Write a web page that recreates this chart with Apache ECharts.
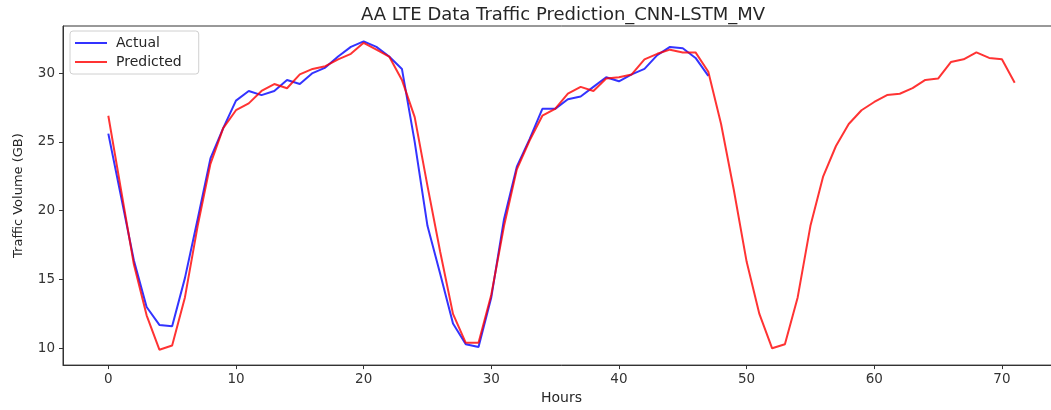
<!DOCTYPE html>
<html>
<head>
<meta charset="utf-8">
<script src="https://cdn.jsdelivr.net/npm/echarts@6/dist/echarts.min.js"></script>
<style>
  html, body { margin: 0; padding: 0; background: #fff; overflow: hidden; }
  #chart { width: 1062px; height: 410px; }
</style>
</head>
<body>
<div id="chart"></div>
<script>
// values, one per hour
const actual = [
  25.6, 21.0, 16.4, 13.0, 11.7, 11.6, 15.1, 19.4, 23.8, 26.0,
  28.0, 28.7, 28.4, 28.7, 29.5, 29.2, 30.0, 30.4, 31.2, 31.9,
  32.3, 31.9, 31.2, 30.3, 25.0, 18.9, 15.4, 11.8, 10.3, 10.1,
  13.7, 19.4, 23.2, 25.2, 27.4, 27.4, 28.1, 28.3, 29.0, 29.7,
  29.4, 29.9, 30.3, 31.3, 31.9, 31.8, 31.1, 29.8
]
const predicted = [
  26.9, 21.5, 16.1, 12.4, 9.9, 10.2, 13.7, 18.9, 23.4, 26.0,
  27.3, 27.8, 28.7, 29.2, 28.9, 29.9, 30.3, 30.5, 31.0, 31.4,
  32.2, 31.7, 31.2, 29.5, 26.8, 21.8, 17.0, 12.5, 10.4, 10.4,
  13.9, 18.9, 23.0, 25.1, 26.9, 27.4, 28.5, 29.0, 28.7, 29.6,
  29.7, 29.9, 31.0, 31.4, 31.7, 31.5, 31.5, 30.1, 26.3, 21.5,
  16.3, 12.5, 10.0, 10.3, 13.7, 18.9, 22.5, 24.7, 26.3, 27.3,
  27.9, 28.4, 28.5, 28.9, 29.5, 29.6, 30.8, 31.0, 31.5, 31.1,
  31.0, 29.3
]
const xTicks = [0, 10, 20, 30, 40, 50, 60, 70]
const yTicks = [10, 15, 20, 25, 30]

const font = 'DejaVu Sans'
const toPairs = arr => arr.map((v, i) => [i, v])

const chart = echarts.init(document.getElementById('chart'), null, { renderer: 'canvas' })
chart.setOption({
  animation: false,
  backgroundColor: '#fff',
  textStyle: { fontFamily: font },
  title: {
    text: 'AA LTE Data Traffic Prediction_CNN-LSTM_MV',
    left: 558,
    top: 1,
    textAlign: 'center',
    textStyle: { fontFamily: font, fontSize: 18, fontWeight: 'normal', color: '#262626' }
  },
  legend: {
    orient: 'vertical',
    left: 70,
    top: 31,
    icon: 'rect',
    itemWidth: 32,
    itemHeight: 2,
    itemGap: 5,
    padding: [5, 17, 5, 5],
    borderColor: '#d0d0d0',
    borderWidth: 1,
    borderRadius: 3,
    textStyle: { fontFamily: font, fontSize: 14, color: '#262626', padding: [0, 0, 0, 4] },
    data: ['Actual', 'Predicted']
  },
  grid: {
    left: 63,
    top: 26,
    right: 2,
    bottom: 40,
    show: true,
    borderColor: '#333',
    borderWidth: 1,
    backgroundColor: '#fff'
  },
  xAxis: {
    type: 'value',
    min: -3.55,
    max: 74.55,
    name: 'Hours',
    nameLocation: 'middle',
    nameGap: 25,
    nameTextStyle: { fontFamily: font, fontSize: 14, color: '#262626' },
    axisLine: { show: true, onZero: false, lineStyle: { color: '#333' } },
    axisTick: { show: true, length: 4, customValues: xTicks, lineStyle: { color: '#333' } },
    axisLabel: { customValues: xTicks, margin: 7, fontFamily: font, fontSize: 13.5, color: '#333' },
    splitLine: { show: false }
  },
  yAxis: {
    type: 'value',
    min: 8.78,
    max: 33.42,
    name: 'Traffic Volume (GB)',
    nameLocation: 'middle',
    nameGap: 38,
    nameTextStyle: { fontFamily: font, fontSize: 13, color: '#262626' },
    axisLine: { show: true, onZero: false, lineStyle: { color: '#333' } },
    axisTick: { show: true, length: 4, customValues: yTicks, lineStyle: { color: '#333' } },
    axisLabel: { customValues: yTicks, margin: 8, fontFamily: font, fontSize: 13.5, color: '#333' },
    splitLine: { show: false }
  },
  series: [
    {
      name: 'Actual',
      type: 'line',
      data: toPairs(actual),
      showSymbol: false,
      symbol: 'none',
      itemStyle: { color: 'rgba(0,0,255,0.8)' },
      lineStyle: { color: 'rgba(0,0,255,0.8)', width: 2 },
      z: 2
    },
    {
      name: 'Predicted',
      type: 'line',
      data: toPairs(predicted),
      showSymbol: false,
      symbol: 'none',
      itemStyle: { color: 'rgba(255,0,0,0.8)' },
      lineStyle: { color: 'rgba(255,0,0,0.8)', width: 2 },
      z: 3
    }
  ]
})
</script>
</body>
</html>
